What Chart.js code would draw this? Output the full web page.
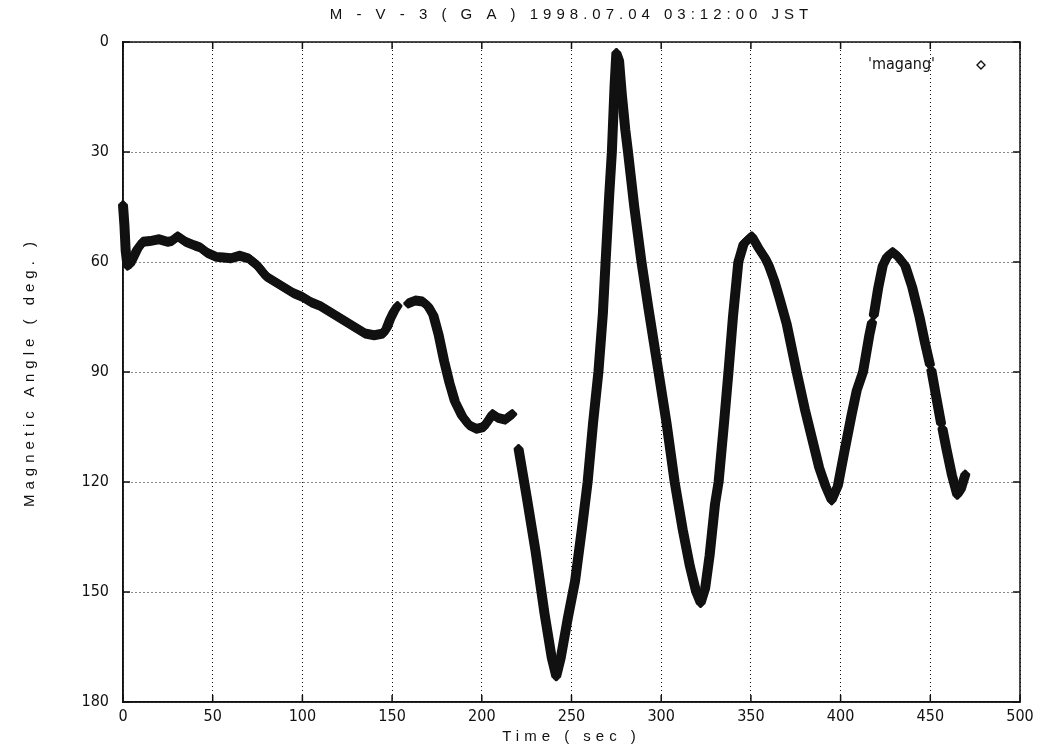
<!DOCTYPE html>
<html>
<head>
<meta charset="utf-8">
<script src="https://cdn.jsdelivr.net/npm/chart.js@4.4.1/dist/chart.umd.min.js"></script>
<style>
  html, body { margin: 0; padding: 0; background: #fff; }
  #wrap { width: 1045px; height: 756px; }
</style>
</head>
<body>
<div id="wrap"><canvas id="magang-chart"></canvas></div>
<script>
// Values; null marks a break in the trace
const timeSec = [
  0, 0.8, 1.5, 2.5, 4, 6, 8, 11, 15, 20, 25, 27, 30.5, 35, 40, 43, 47, 52, 56, 60, 65, 70, 75,
  80, 85, 90, 95, 100, 105, 110, 115, 120, 125, 130, 135, 140, 145, 147, 149, 151, 153,
  156,
  159, 163, 167, 170, 173, 176, 179, 182, 185, 189, 193, 197, 201, 204, 206, 209, 213, 217,
  219,
  220.5, 225, 230, 235, 239, 241.5, 244, 248, 252, 256, 259, 262, 265, 267.5, 269, 271, 272.5,
  274, 275, 276.5, 278, 280, 281.5, 285, 289, 293, 298.5, 303, 307.5, 312, 316, 319.5, 322,
  324.5, 327, 330, 332, 335, 337.5, 340, 343, 346, 350.5, 354, 358, 360, 363, 366, 370, 375.5,
  380, 384, 388, 391.5, 395, 398.5, 402, 406, 409, 412.5, 416, 417.5,
  418,
  418.5, 421, 423.5, 426, 429, 432, 436, 440, 444, 447, 449.8,
  450.2,
  450.6, 453, 456,
  456.4,
  456.8, 459, 462, 465, 467, 469.5
];
const magAngle = [
  44.5, 50, 57, 61, 60.5, 58.5, 56.5, 54.5, 54.3, 53.8, 54.5, 54.3, 53, 54.5, 55.5, 56, 57.5, 58.6, 58.8, 59, 58.3, 59, 61,
  64, 65.5, 67, 68.5, 69.5, 71, 72, 73.5, 75, 76.5, 78, 79.5, 80, 79.5, 78, 75.5, 73.5, 72,
  null,
  71.3, 70.5, 70.8, 72, 74.5, 80, 87, 93, 98, 102, 104.5, 105.5, 105, 103, 101.5, 102.5, 103, 101.5,
  null,
  111, 124, 139, 156, 168, 173, 168, 157, 147, 132, 120, 104, 90, 74, 60, 42, 30,
  12, 3, 5, 14, 24, 30, 45, 60, 73, 90, 104, 120, 133, 143, 150, 153,
  149, 140, 126, 120, 104, 90, 75, 60, 55, 53, 56, 59, 61, 65, 70, 77, 90,
  100, 108, 116, 121, 125, 121, 112, 102, 95, 90, 80, 76.5,
  null,
  74.5, 67, 61, 58.5, 57.3, 58.5, 61, 67, 75, 82, 88,
  null,
  89.5, 96, 104,
  null,
  105.5, 111, 118, 123.5, 122, 118
];

const xTickStep = 50;
const yTickStep = 30;

const canvas = document.getElementById("magang-chart");
const ink = "#111";

// letter-spaced titles (grid layer + title) but plain tick labels (drawn after datasets)
const spacing = {
  id: "spacing",
  beforeDraw: (chart) => { chart.ctx.letterSpacing = "5px"; },
  beforeDatasetsDraw: (chart) => { chart.ctx.letterSpacing = "0px"; },
};

// the trace is a dense row of diamonds: repeat the line around a small diamond
const diamondTrace = {
  id: "diamondTrace",
  afterDatasetsDraw: (chart) => {
    const line = chart.getDatasetMeta(0).dataset;
    const { ctx, chartArea: a } = chart;
    const r = 3;
    const offsets = [[r, 0], [-r, 0], [0, r], [0, -r], [r / 2, r / 2], [-r / 2, r / 2], [r / 2, -r / 2], [-r / 2, -r / 2]];
    ctx.save();
    ctx.beginPath();
    ctx.rect(a.left - 6, a.top - 6, a.right - a.left + 12, a.bottom - a.top + 12);
    ctx.clip();
    offsets.forEach(([dx, dy]) => {
      ctx.save();
      ctx.translate(dx, dy);
      line.draw(ctx, a);
      ctx.restore();
    });
    ctx.restore();
  },
};

// gnuplot-style frame, inner tick marks and key
const frame = {
  id: "frame",
  afterDraw: (chart) => {
    const { ctx, chartArea: a, scales } = chart;
    ctx.save();
    ctx.strokeStyle = ink;
    ctx.lineWidth = 1.5;
    ctx.beginPath();
    scales.x.ticks.forEach((t) => {
      const px = scales.x.getPixelForValue(t.value);
      ctx.moveTo(px, a.top); ctx.lineTo(px, a.top + 7);
      ctx.moveTo(px, a.bottom); ctx.lineTo(px, a.bottom - 7);
    });
    scales.y.ticks.forEach((t) => {
      const py = scales.y.getPixelForValue(t.value);
      ctx.moveTo(a.left, py); ctx.lineTo(a.left + 7, py);
      ctx.moveTo(a.right, py); ctx.lineTo(a.right - 7, py);
    });
    ctx.stroke();
    ctx.strokeRect(a.left, a.top, a.right - a.left, a.bottom - a.top);

    // key: label then a hollow diamond
    ctx.fillStyle = ink;
    ctx.font = "16px 'Liberation Sans Narrow', 'DejaVu Sans Condensed', Arial, sans-serif";
    ctx.textAlign = "right";
    ctx.textBaseline = "middle";
    ctx.fillText("'magang'", a.right - 85, a.top + 23);
    const kx = a.right - 39, ky = a.top + 23, r = 4;
    ctx.fillStyle = "#fff";
    ctx.lineWidth = 1.4;
    ctx.beginPath();
    ctx.moveTo(kx, ky - r); ctx.lineTo(kx + r, ky); ctx.lineTo(kx, ky + r); ctx.lineTo(kx - r, ky);
    ctx.closePath();
    ctx.fill(); ctx.stroke();
    ctx.restore();
  },
};

const data = {
  datasets: [
    {
      label: "'magang'",
      data: timeSec.map((t, i) => ({ x: t, y: magAngle[i] })),
      borderColor: ink,
      backgroundColor: ink,
      borderWidth: 4,
      borderCapStyle: "round",
      borderJoinStyle: "round",
      pointRadius: 0,
      tension: 0,
      spanGaps: false,
    },
  ],
};

const tickFont = { family: "'Liberation Sans Narrow', 'DejaVu Sans Condensed', Arial, sans-serif", size: 16 };
const titleFont = { family: "'Liberation Sans', Arial, sans-serif", size: 15 };

new Chart(canvas, {
  type: "line",
  data: data,
  plugins: [spacing, diamondTrace, frame],
  options: {
    responsive: true,
    maintainAspectRatio: false,
    animation: false,
    layout: { padding: { left: 0, right: 25, top: 0, bottom: 0 } },
    plugins: {
      legend: { display: false },
      tooltip: { enabled: false },
      title: {
        display: true,
        fullSize: false,
        text: "M - V - 3 ( G A ) 1998.07.04 03:12:00 JST",
        color: ink,
        font: { family: "'Liberation Sans', Arial, sans-serif", size: 15, weight: "normal" },
        padding: { top: 6, bottom: 18 },
      },
    },
    scales: {
      x: {
        type: "linear",
        min: 0,
        max: 500,
        afterFit: (s) => { s.height = 54; },
        ticks: { stepSize: xTickStep, color: ink, font: tickFont, padding: 5, z: 1 },
        grid: { color: ink, lineWidth: 1, drawTicks: false },
        border: { color: ink, width: 1.5, dash: [1, 3] },
        title: { display: true, text: "Time ( sec )", color: ink, font: titleFont, padding: { top: 0, bottom: 10 } },
      },
      y: {
        reverse: true,
        min: 0,
        max: 180,
        afterFit: (s) => { s.width = 123; },
        ticks: { stepSize: yTickStep, color: ink, font: tickFont, padding: 14, z: 1 },
        grid: { color: ink, lineWidth: 1, drawTicks: false },
        border: { color: ink, width: 1.5, dash: [1, 3] },
        title: { display: true, text: "Magnetic Angle ( deg. )", color: ink, font: titleFont, padding: { top: 21, bottom: 0 } },
      },
    },
  },
});
</script>
</body>
</html>
